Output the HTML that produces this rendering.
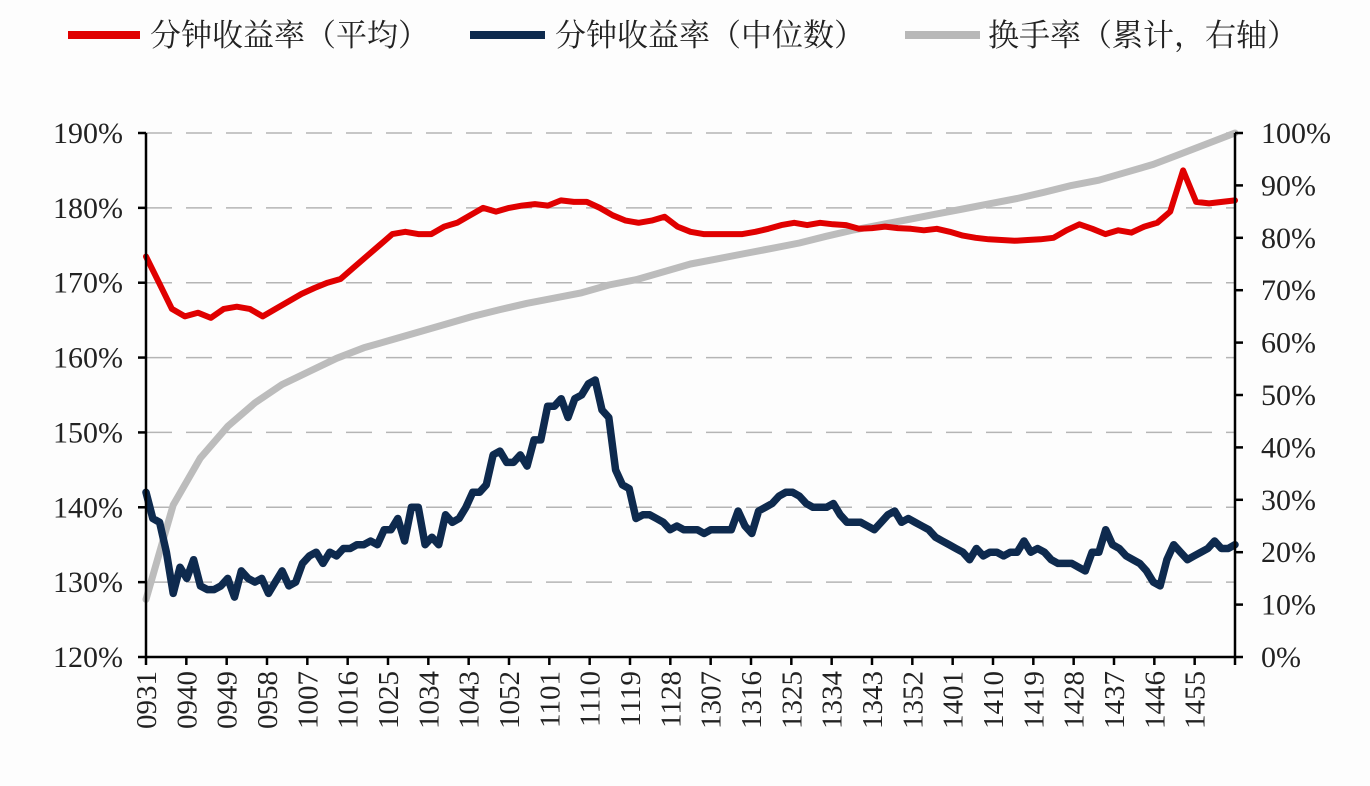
<!DOCTYPE html>
<html><head><meta charset="utf-8">
<style>
body{margin:0;background:#fdfdfd;}
svg{display:block;font-family:"Liberation Serif","Noto Serif CJK SC",serif;}
.leg{font-family:"Liberation Serif","Noto Serif CJK SC","Noto Sans CJK SC",serif;font-size:31px;fill:#222;}
</style></head>
<body>
<svg id="chart" width="1370" height="786" viewBox="0 0 1370 786" xmlns="http://www.w3.org/2000/svg">
<rect width="1370" height="786" fill="#fdfdfd"/>
<g>
 <g><line x1="68" y1="35" x2="140" y2="35" stroke="#e00000" stroke-width="8"/><text class="leg" x="150" y="46">分钟收益率（平均）</text></g>
 <g><line x1="470" y1="35" x2="545" y2="35" stroke="#0e2a4e" stroke-width="8"/><text class="leg" x="555" y="46">分钟收益率（中位数）</text></g>
 <g><line x1="905" y1="35" x2="980" y2="35" stroke="#b8b8b8" stroke-width="8"/><text class="leg" x="988" y="46">换手率（累计，右轴）</text></g>
</g>
<g id="grid"></g>
<g id="series"></g>
<g id="axes"></g>
</svg>
<script>
const leftTicks=[120,130,140,150,160,170,180,190];
const rightTicks=[0,10,20,30,40,50,60,70,80,90,100];
const xLabels=["0931","0940","0949","0958","1007","1016","1025","1034","1043","1052","1101","1110","1119","1128","1307","1316","1325","1334","1343","1352","1401","1410","1419","1428","1437","1446","1455"];
const meanReturn=[173.5,170,166.5,165.5,166,165.3,166.5,166.8,166.5,165.5,166.5,167.5,168.5,169.3,170,170.5,172,173.5,175,176.5,176.8,176.5,176.5,177.5,178,179,180,179.5,180,180.3,180.5,180.3,181,180.8,180.8,180,179,178.3,178,178.3,178.8,177.5,176.8,176.5,176.5,176.5,176.5,176.8,177.2,177.7,178,177.7,178,177.8,177.7,177.2,177.3,177.5,177.3,177.2,177,177.2,176.8,176.3,176,175.8,175.7,175.6,175.7,175.8,176,177,177.8,177.2,176.5,177,176.7,177.5,178,179.5,185,180.8,180.6,180.8,181];
const medianReturn=[142,138.5,138,134,128.5,132,130.5,133,129.5,129,129,129.5,130.5,128,131.5,130.5,130,130.5,128.5,130,131.5,129.5,130,132.5,133.5,134,132.5,134,133.5,134.5,134.5,135,135,135.5,135,137,137,138.5,135.5,140,140,135,136,135,139,138,138.5,140,142,142,143,147,147.5,146,146,147,145.5,149,149,153.5,153.5,154.5,152,154.5,155,156.5,157,153,152,145,143,142.5,138.5,139,139,138.5,138,137,137.5,137,137,137,136.5,137,137,137,137,139.5,137.5,136.5,139.5,140,140.5,141.5,142,142,141.5,140.5,140,140,140,140.5,139,138,138,138,137.5,137,138,139,139.5,138,138.5,138,137.5,137,136,135.5,135,134.5,134,133,134.5,133.5,134,134,133.5,134,134,135.5,134,134.5,134,133,132.5,132.5,132.5,132,131.5,134,134,137,135,134.5,133.5,133,132.5,131.5,130,129.5,133,135,134,133,133.5,134,134.5,135.5,134.5,134.5,135];
const turnover=[11,29,38,44,48.5,52,54.5,57,59,60.5,62,63.5,65,66.3,67.5,68.5,69.5,71,72,73.5,75,76,77,78,79,80.3,81.5,82.5,83.5,84.5,85.5,86.5,87.5,88.7,90,91,92.5,94,96,98,100];

const X0=146,X1=1235,Y0=657,Y1=133;
const yL=v=>Y0-(v-120)/70*(Y0-Y1);
const yR=v=>Y0-v/100*(Y0-Y1);
const xFrac=f=>X0+f*(X1-X0);
const xIdx=(i,n)=>xFrac(i/(n-1));
const NS='http://www.w3.org/2000/svg';
function mk(tag,attrs,parent){const e=document.createElementNS(NS,tag);for(const k in attrs)e.setAttribute(k,attrs[k]);parent.appendChild(e);return e;}
const grid=document.getElementById('grid'),series=document.getElementById('series'),axes=document.getElementById('axes');

leftTicks.forEach(v=>{
 if(v>120){const g=mk('line',{x1:X0,x2:X1,y1:yL(v),y2:yL(v),stroke:'#b5b5b5','stroke-width':1.5,'stroke-dasharray':'26,14'},grid);
 
 }
 const t=mk('line',{x1:X0-8,x2:X0,y1:yL(v),y2:yL(v),stroke:'#000','stroke-width':2.5},axes);
 
 
 const l=mk('text',{x:123,y:yL(v)+10,'text-anchor':'end','font-size':30,fill:'#222'},axes);l.textContent=v+'%';
 
 
});
rightTicks.forEach(v=>{
 const t=mk('line',{x1:X1,x2:X1+8,y1:yR(v),y2:yR(v),stroke:'#000','stroke-width':2.5},axes);
 
 
 const l=mk('text',{x:1261,y:yR(v)+10,'font-size':30,fill:'#222'},axes);l.textContent=v+'%';
 
 
});
const nMin=244;
xLabels.forEach((s,k)=>{
 const x=xFrac(k*9/(nMin-1));
 const t=mk('line',{x1:x,x2:x,y1:Y0,y2:Y0+8,stroke:'#000','stroke-width':2.5},axes);
 
 
 const l=mk('text',{x:0,y:0,transform:`translate(${x+10},${Y0+14}) rotate(-90)`,'text-anchor':'end','font-size':29,fill:'#222'},axes);
 l.textContent=s;
 
 
});
const te=mk('line',{x1:X1,x2:X1,y1:Y0,y2:Y0+8,stroke:'#000','stroke-width':2.5},axes);



function line(arr,yf,color,w,name){
 const pts=arr.map((v,i)=>xIdx(i,arr.length).toFixed(1)+','+yf(v).toFixed(1)).join(' ');
 const p=mk('polyline',{points:pts,fill:'none',stroke:color,'stroke-width':w,'stroke-linejoin':'round','stroke-linecap':'round'},series);
 
 
}
line(turnover,yR,'#bcbcbc',7,'turnover-line');
line(meanReturn,yL,'#e00000',6,'mean-return-line');
line(medianReturn,yL,'#0e2a4e',7.5,'median-return-line');

const la=mk('line',{x1:X0,x2:X0,y1:Y1,y2:Y0,stroke:'#000','stroke-width':2.5},axes);


const ra=mk('line',{x1:X1,x2:X1,y1:Y1,y2:Y0,stroke:'#000','stroke-width':2.5},axes);


const xa=mk('line',{x1:X0,x2:X1,y1:Y0,y2:Y0,stroke:'#000','stroke-width':2.5},axes);


</script>
</body></html>
